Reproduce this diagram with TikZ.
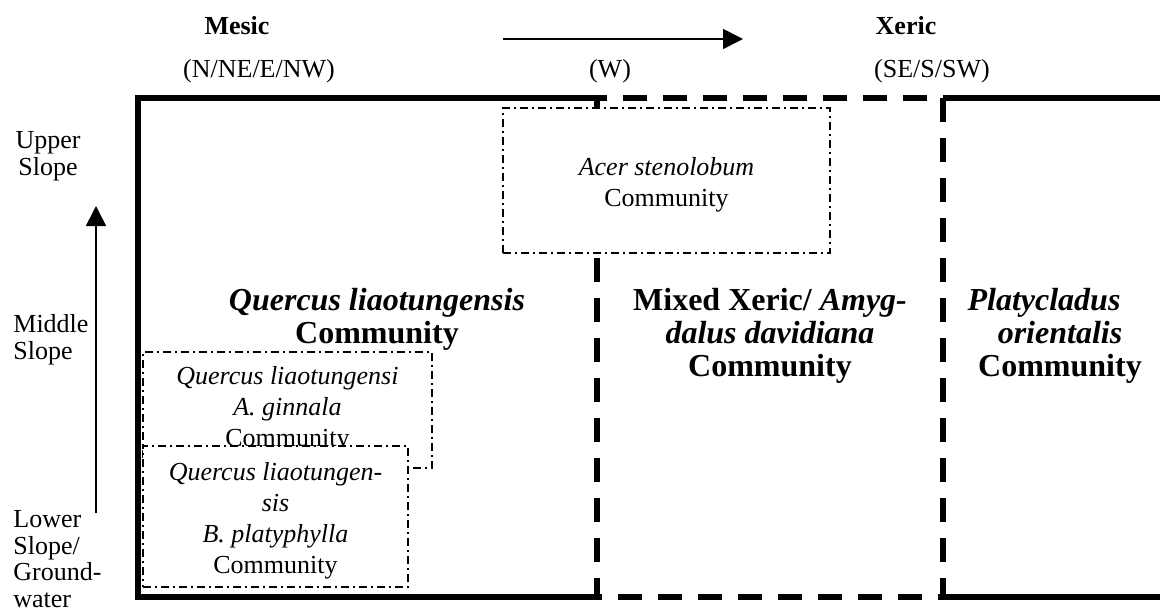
\documentclass[tikz,border=0pt]{standalone}
\usepackage{fontspec}
\setmainfont{Liberation Serif}
\usetikzlibrary{arrows.meta}
\begin{document}
\begin{tikzpicture}[x=0.5pt, y=-0.5pt, inner sep=0pt,
  side label/.style={font=\fontsize{13}{13.3}\selectfont},
  top label/.style={font=\fontsize{13}{15}\selectfont, anchor=base},
  box text/.style={font=\fontsize{13}{15.5}\selectfont, align=center},
  big text/.style={font=\fontsize{16}{16.5}\selectfont\bfseries, align=center},
  dashdot box/.style={draw, line width=0.6pt, fill=white, dash pattern=on 4pt off 2pt on 1pt off 2pt},
  heavy dash/.style={line width=3pt, dash pattern=on 12pt off 8pt},
  frame line/.style={line width=3.2pt},
  gradient arrow/.style={line width=0.8pt, -{Triangle[length=10pt,width=10pt]}}]
\useasboundingbox (0,0) rectangle (1160,610);
% aspect gradient
\node[top label, font=\fontsize{13}{15}\selectfont\bfseries] (mesic) at (237,35) {Mesic};
\node[top label, font=\fontsize{13}{15}\selectfont\bfseries] (xeric) at (906,35) {Xeric};
\node[top label] (mesicdir) at (259,78) {(N/NE/E/NW)};
\node[top label] (middir) at (610,78) {(W)};
\node[top label] (xericdir) at (932,78) {(SE/S/SW)};
\coordinate (hstart) at (503,39);
\coordinate (hend) at (743,39);
\draw[gradient arrow] (hstart) -- (hend);
% slope gradient
\node[side label, align=center] (upper) at (48,156) {Upper\\Slope};
\node[side label, align=left, anchor=west] (middle) at (13,340) {Middle\\Slope};
\node[side label, align=left, anchor=west] (lower) at (13,559) {Lower\\Slope/\\Ground-\\water};
\coordinate (vstart) at (96,513);
\coordinate (vend) at (96,206);
\draw[gradient arrow] (vstart) -- (vend);
% community zones
\draw[frame line] (597,98) -- (138,98) -- (138,597) -- (597,597);
\draw[frame line] (943,98) -- (1165,98);
\draw[frame line] (943,597) -- (1165,597);
\draw[heavy dash] (597,98) rectangle (943,597);
\node[big text] (quercus) at (377,319) {\itshape Quercus liaotungensis\\Community};
\node[big text] (mixed) at (770,336) {Mixed Xeric/ \itshape Amyg-\\\itshape dalus davidiana\\Community};
\node[big text] (platy) at (1060,336) {\itshape Platycladus\hspace*{16pt}\\\itshape orientalis\hspace*{16pt}\\Community};
\node[dashdot box, minimum width=163.5pt, minimum height=72.5pt] (acer box) at (666.5,180.5) {};
\node[box text] (acer) at (666.5,184.5) {\itshape Acer stenolobum\\Community};
\node[dashdot box, minimum width=144.5pt, minimum height=58pt] (ginnala box) at (287.5,410) {};
\node[box text] (ginnala) at (287.5,409) {\itshape Quercus liaotungensi\\\itshape A. ginnala\\Community};
\node[dashdot box, minimum width=132.5pt, minimum height=70.5pt] (platyphylla box) at (275.5,516.5) {};
\node[box text] (platyphylla) at (275.5,521) {\itshape Quercus liaotungen-\\\itshape sis\\\itshape B. platyphylla\\Community};
\end{tikzpicture}
\end{document}
